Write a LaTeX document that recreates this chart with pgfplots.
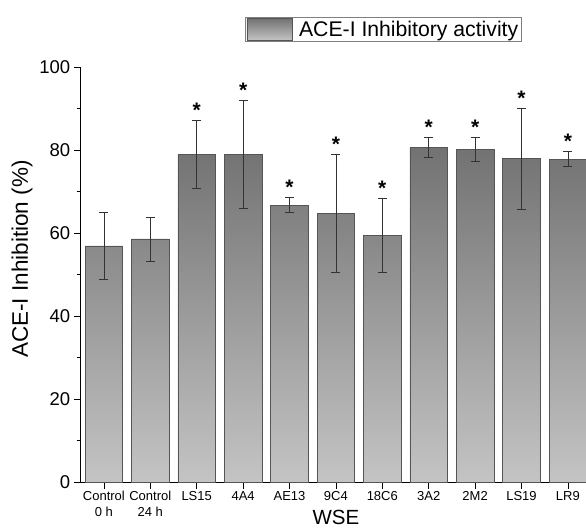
\documentclass[border=0pt]{standalone}
\usepackage{fontspec}
\setmainfont{Liberation Sans}
\usepackage{pgfplots}
\pgfplotsset{compat=1.18}
\usepackage{pgfplotstable}

\definecolor{bartop}{HTML}{727272}
\definecolor{barbot}{HTML}{C4C4C4}
\definecolor{baredge}{HTML}{555555}

% mean, error up, error down
\pgfplotstableread{
x y ep em
0 56.9 8.1 8.1
1 58.6 5.3 5.3
2 78.9 8.3 8.2
3 78.9 13.1 12.9
4 66.7 1.9 1.7
5 64.8 14.2 14.2
6 59.4 8.9 8.9
7 80.6 2.4 2.3
8 80.2 2.9 2.9
9 77.9 12.1 12.1
10 77.8 1.8 1.8
}\acedata

% top of the error bar, where the asterisk sits
\pgfplotstableread{
x top
2 87.2
3 92.0
4 68.6
5 79.0
6 68.3
7 83.0
8 83.1
9 90.0
10 79.6
}\stardata

\begin{document}
\begin{tikzpicture}
\begin{axis}[
    scale only axis,
    width=505.3pt, height=415pt,
    xmin=-0.5, xmax=10.39,
    ymin=0, ymax=100,
    axis x line*=bottom,
    axis y line*=left,
    axis line style={black, line width=0.8pt},
    tick align=outside,
    major tick length=7pt,
    minor tick length=4pt,
    tick style={black, line width=0.8pt},
    xtick={0,1,2,3,4,5,6,7,8,9,10},
    xticklabels={{Control\\0 h},{Control\\24 h},LS15,4A4,AE13,9C4,18C6,3A2,2M2,LS19,LR9},
    x tick label style={font=\fontsize{13}{15.5}\selectfont, align=center, anchor=north, yshift=1pt},
    ytick={0,20,40,60,80,100},
    minor ytick={10,30,50,70,90},
    y tick label style={font=\fontsize{18.5}{20}\selectfont},
    /pgf/number format/assume math mode=true,
    xlabel={WSE},
    xlabel style={font=\fontsize{20.5}{24}\selectfont, at={(rel axis cs:0.505,0)}, anchor=base, yshift=-42pt},
    ylabel={ACE-I Inhibition (\%)},
    ylabel style={font=\fontsize{22.5}{26}\selectfont, at={(ticklabel cs:0.537)}},
    legend style={at={(0.599,1)}, anchor=south, yshift=25pt, draw=gray, line width=0.6pt,
        font=\fontsize{21.2}{24}\selectfont, inner xsep=1pt, inner ysep=1pt},
    legend image code/.code={
        \draw[baredge, line width=0.6pt, top color=bartop, bottom color=barbot]
            (0pt,-11pt) rectangle (45pt,11pt);
        \path (50pt,0pt);
    },
]
\addplot[ybar, bar width=0.81, draw=baredge, line width=0.6pt,
    top color=bartop, bottom color=barbot,
    error bars/.cd, y dir=both, y explicit,
    error bar style={line width=0.6pt, black!80},
    error mark options={rotate=90, mark size=4.5pt, line width=0.6pt, black!80}]
    table[x=x, y=y, y error plus=ep, y error minus=em] {\acedata};
\addlegendentry{ACE-I Inhibitory activity}

\addplot[draw=none, mark=none, forget plot,
    nodes near coords={*},
    every node near coord/.style={anchor=center, yshift=10pt, font=\fontsize{21}{21}\bfseries\selectfont}]
    table[x=x, y=top] {\stardata};
\end{axis}
\pgfresetboundingbox
\path (current axis.south west) ++(-80.7pt,-46pt) rectangle ([yshift=67pt]current axis.north east);
\end{tikzpicture}
\end{document}
